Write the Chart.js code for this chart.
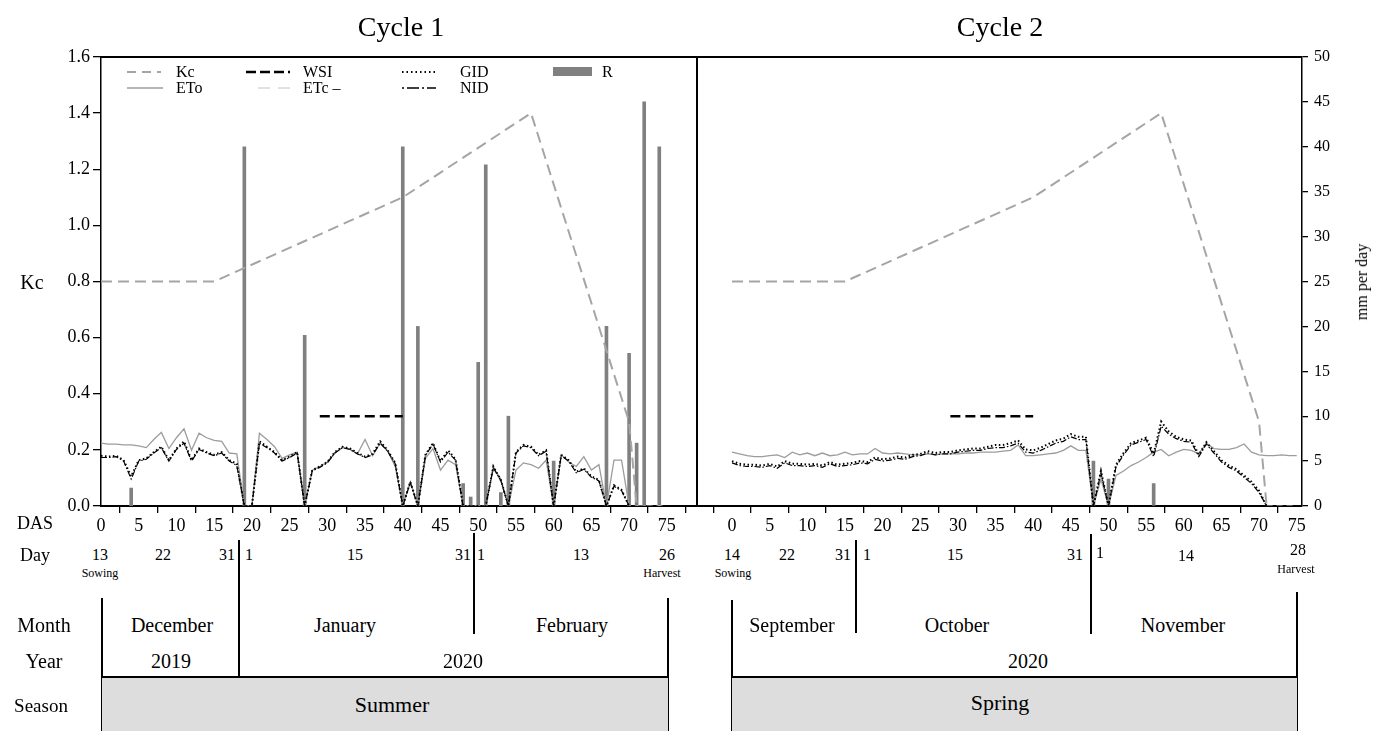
<!DOCTYPE html>
<html>
<head>
<meta charset="utf-8">
<script src="https://cdn.jsdelivr.net/npm/chart.js@4.4.0/dist/chart.umd.min.js"></script>
<style>
body { margin: 0; background: #fff; font-family: 'Liberation Serif', 'Times New Roman', serif; color: #000; }
#wrap { position: relative; width: 1376px; height: 731px; overflow: hidden; }
canvas { position: absolute; }
.t { position: absolute; white-space: nowrap; transform: translate(-50%, -50%); line-height: 1; }
.l { position: absolute; white-space: nowrap; transform: translate(0, -50%); line-height: 1; font-size: 16px; }
.v { position: absolute; background: #000; width: 1.5px; }
.box { position: absolute; background: #dddddd; border-top: 2px solid #000; border-left: 1.5px solid #000; border-right: 1.5px solid #000; box-sizing: border-box; }
svg { position: absolute; overflow: visible; }
</style>
</head>
<body>
<div id="wrap">
  <canvas id="c1" width="700" height="545" style="left:0;top:0"></canvas>
  <canvas id="c2" width="679" height="545" style="left:697px;top:0"></canvas>

  <div class="t" style="left:401px;top:27px;font-size:28px">Cycle 1</div>
  <div class="t" style="left:1000px;top:27px;font-size:28px">Cycle 2</div>
  <div class="t" style="left:32px;top:282px;font-size:20px">Kc</div>
  <div class="t" style="left:1362px;top:282px;font-size:16px;transform:translate(-50%,-50%) rotate(-90deg)">mm per day</div>

  <!-- legend -->
  <svg style="left:127px;top:72px" width="34" height="2"><line x1="0" y1="0" x2="34" y2="0" stroke="#a5a5a5" stroke-width="2" stroke-dasharray="9,6"/></svg>
  <div class="l" style="left:176px;top:72px">Kc</div>
  <svg style="left:246px;top:72px" width="44" height="2"><line x1="0" y1="0" x2="44" y2="0" stroke="#000" stroke-width="2.5" stroke-dasharray="10,4"/></svg>
  <div class="l" style="left:303px;top:72px">WSI</div>
  <svg style="left:402px;top:72px" width="36" height="2"><line x1="0" y1="0" x2="36" y2="0" stroke="#000" stroke-width="2" stroke-dasharray="1.5,3"/></svg>
  <div class="l" style="left:460px;top:72px">GID</div>
  <div style="position:absolute;left:553px;top:67px;width:39px;height:9px;background:#808080"></div>
  <div class="l" style="left:602px;top:72px">R</div>
  <svg style="left:127px;top:88px" width="36" height="2"><line x1="0" y1="0" x2="36" y2="0" stroke="#9c9c9c" stroke-width="1.3"/></svg>
  <div class="l" style="left:176px;top:88px">ETo</div>
  <svg style="left:258px;top:88px" width="34" height="2"><line x1="0" y1="0" x2="34" y2="0" stroke="#c4c4c4" stroke-width="1" stroke-dasharray="12,8"/></svg>
  <div class="l" style="left:303px;top:88px">ETc –</div>
  <svg style="left:402px;top:88px" width="34" height="2"><line x1="0" y1="0" x2="34" y2="0" stroke="#000" stroke-width="1.3" stroke-dasharray="2,3,12,3"/></svg>
  <div class="l" style="left:460px;top:88px">NID</div>

  <!-- row labels -->
  <div class="t" style="left:35px;top:523px;font-size:18px">DAS</div>
  <div class="t" style="left:35px;top:555px;font-size:18px">Day</div>
  <div class="t" style="left:44px;top:625px;font-size:20px">Month</div>
  <div class="t" style="left:44px;top:661px;font-size:20px">Year</div>
  <div class="t" style="left:41px;top:705px;font-size:19px">Season</div>

  <!-- cycle 1 calendar -->
  <div class="t" style="left:100px;top:555px;font-size:16px">13</div>
  <div class="t" style="left:163px;top:555px;font-size:16px">22</div>
  <div class="t" style="left:227px;top:555px;font-size:16px">31</div>
  <div class="t" style="left:249px;top:555px;font-size:16px">1</div>
  <div class="t" style="left:355px;top:555px;font-size:16px">15</div>
  <div class="t" style="left:463px;top:555px;font-size:16px">31</div>
  <div class="t" style="left:481px;top:555px;font-size:16px">1</div>
  <div class="t" style="left:581px;top:555px;font-size:16px">13</div>
  <div class="t" style="left:667px;top:555px;font-size:16px">26</div>
  <div class="t" style="left:100px;top:573px;font-size:12px">Sowing</div>
  <div class="t" style="left:662px;top:573px;font-size:12px">Harvest</div>
  <div class="v" style="left:238px;top:540px;height:136px"></div>
  <div class="v" style="left:473px;top:533px;height:101px"></div>
  <div class="v" style="left:101px;top:598px;height:80px"></div>
  <div class="v" style="left:667px;top:598px;height:80px"></div>
  <div class="t" style="left:172px;top:625px;font-size:20px">December</div>
  <div class="t" style="left:345px;top:625px;font-size:20px">January</div>
  <div class="t" style="left:572px;top:625px;font-size:20px">February</div>
  <div class="t" style="left:171px;top:661px;font-size:20px">2019</div>
  <div class="t" style="left:463px;top:661px;font-size:20px">2020</div>
  <div class="box" style="left:101px;top:676px;width:568px;height:60px"></div>
  <div class="t" style="left:392px;top:705px;font-size:22px">Summer</div>

  <!-- cycle 2 calendar -->
  <div class="t" style="left:732px;top:555px;font-size:16px">14</div>
  <div class="t" style="left:787px;top:555px;font-size:16px">22</div>
  <div class="t" style="left:843px;top:555px;font-size:16px">31</div>
  <div class="t" style="left:867px;top:555px;font-size:16px">1</div>
  <div class="t" style="left:955px;top:555px;font-size:16px">15</div>
  <div class="t" style="left:1075px;top:555px;font-size:16px">31</div>
  <div class="t" style="left:1100px;top:553px;font-size:16px">1</div>
  <div class="t" style="left:1186px;top:556px;font-size:16px">14</div>
  <div class="t" style="left:1298px;top:550px;font-size:16px">28</div>
  <div class="t" style="left:733px;top:573px;font-size:12px">Sowing</div>
  <div class="t" style="left:1296px;top:569px;font-size:12px">Harvest</div>
  <div class="v" style="left:855px;top:540px;height:93px"></div>
  <div class="v" style="left:1090px;top:534px;height:100px"></div>
  <div class="v" style="left:731px;top:600px;height:78px"></div>
  <div class="v" style="left:1296px;top:592px;height:86px"></div>
  <div class="t" style="left:792px;top:625px;font-size:20px">September</div>
  <div class="t" style="left:957px;top:625px;font-size:20px">October</div>
  <div class="t" style="left:1183px;top:625px;font-size:20px">November</div>
  <div class="t" style="left:1028px;top:661px;font-size:20px">2020</div>
  <div class="box" style="left:731px;top:676px;width:567px;height:60px"></div>
  <div class="t" style="left:1000px;top:703px;font-size:22px">Spring</div>
</div>

<script>
// days after sowing (x values) and axis ticks
const DAS = [0,1,2,3,4,5,6,7,8,9,10,11,12,13,14,15,16,17,18,19,20,21,22,23,24,25,26,27,28,29,30,31,32,33,34,35,36,37,38,
  39,40,41,42,43,44,45,46,47,48,49,50,51,52,53,54,55,56,57,58,59,60,61,62,63,64,65,66,67,68,69,70,71,72,73,74,75];
const DAS_TICKS = [0,5,10,15,20,25,30,35,40,45,50,55,60,65,70,75];
const KC_TICKS = [0,0.2,0.4,0.6,0.8,1.0,1.2,1.4,1.6];
const MM_TICKS = [0,5,10,15,20,25,30,35,40,45,50];

// crop coefficient (break points)
const KC_DAYS = [0,15,40,57,70,71];
const KC1 = [0.8,0.8,1.1,1.4,0.3,0.0];
const KC2 = [0.8,0.8,1.1,1.4,0.3,0.0];

// water stress period
const WSI_DAYS = [29,40];
const WSI1 = [10,10];
const WSI2 = [10,10];

// ETc after harvest
const ETC_DAYS = [71,72,73,74,75];
const ETC1 = [0,0,0,0,0];
const ETC2 = [0,0,0,0,0];

// rain (mm)
const R1_DAYS = [4,19,27,40,42,48,49,50,51,53,54,60,67,70,71,72,74];
const R1 = [2,40,19,40,20,2.5,1,16,38,1.5,10,5,20,17,7,45,40];
const R2_DAYS = [48,50,56];
const R2 = [5,3,2.5];

// cycle 1 daily values (mm)
const ETO1 = [7.0,6.9,6.9,6.8,6.8,6.7,6.5,7.4,8.2,6.4,7.6,8.6,6.2,8.1,7.6,7.3,7.2,5.9,5.8,0,0,8.1,7.4,6.6,5.3,5.7,6.0,0,
  4.0,4.4,4.9,5.9,6.5,6.3,5.8,7.4,5.6,7.0,6.1,4.4,0,2.7,0,5.3,6.4,4.0,5.1,4.6,0,0,0,0,4.2,3.0,0,4.0,4.8,4.6,4.2,5.1,0,
  5.7,4.9,4.4,5.5,4.0,4.6,0,5.1,5.1,0,null,null,null,null,null];
const GID1 = [5.6,5.5,5.6,5.1,3.3,5.1,5.3,6.0,6.6,5.1,6.4,7.2,5.1,6.4,6.0,5.7,6.0,5.1,4.7,0,0,7.2,6.6,6.0,5.1,5.5,6.0,0,
  4.0,4.4,4.9,6.0,6.6,6.4,5.9,5.5,5.8,7.2,6.2,4.8,0,2.7,0,5.7,7.0,5.0,6.2,5.2,0,0,0,0,4.4,2.9,0,6.0,6.8,6.6,5.7,6.2,0,
  5.7,5.1,3.8,4.2,3.3,2.9,0,2.3,1.8,0,null,null,null,null,null];
const NID1 = [5.4,5.4,5.5,5.0,3.0,5.0,5.2,5.9,6.5,5.0,6.3,7.0,5.0,6.3,5.9,5.6,5.9,5.0,4.5,0,0,7.0,6.5,5.9,5.0,5.4,5.9,0,
  3.9,4.3,4.8,5.9,6.5,6.3,5.8,5.4,5.7,7.0,6.1,4.7,0,2.6,0,5.6,6.9,4.9,6.0,5.1,0,0,0,0,4.3,2.8,0,5.9,6.7,6.5,5.6,6.1,0,
  5.6,5.0,3.7,4.1,3.2,2.8,0,2.2,1.7,0,null,null,null,null,null];

// cycle 2 daily values (mm)
const ETO2 = [6.0,5.8,5.6,5.5,5.5,5.6,5.7,5.4,6.0,5.7,5.9,5.6,5.9,5.6,5.7,6.0,5.7,5.8,5.8,6.4,5.9,5.8,5.9,5.8,5.7,5.7,
  5.8,5.7,5.8,5.8,5.8,5.9,5.9,6.0,6.0,6.0,6.1,6.2,6.8,5.6,5.6,5.7,5.8,5.9,6.2,6.7,6.2,6.2,0,3.0,0,3.4,3.9,4.5,4.9,5.4,
  6.0,6.3,5.6,6.0,6.3,6.2,5.8,7.0,6.4,6.3,6.3,6.5,6.9,6.0,5.7,5.6,5.6,5.7,5.6,5.6];
const GID2 = [5.0,4.7,4.6,4.6,4.5,4.7,4.4,5.0,4.7,4.7,4.6,4.7,4.5,4.9,4.6,4.7,4.8,5.0,4.9,5.4,5.2,5.3,5.5,5.4,5.7,5.8,
  6.1,5.9,6.0,6.0,6.2,6.3,6.4,6.4,6.6,6.8,6.8,7.0,7.3,6.3,6.2,6.5,6.9,7.3,7.5,8.0,7.7,7.7,0,3.9,0,4.6,5.9,7.0,7.3,7.6,
  5.8,9.4,8.3,7.7,7.4,7.3,5.7,7.1,6.1,5.1,4.5,4.1,3.4,2.7,1.7,0,null,null,null,null];
const NID2 = [4.8,4.5,4.4,4.4,4.3,4.5,4.2,4.8,4.5,4.5,4.4,4.5,4.3,4.7,4.4,4.5,4.6,4.8,4.7,5.2,5.0,5.1,5.3,5.2,5.5,5.6,
  5.9,5.7,5.8,5.8,6.0,6.1,6.2,6.2,6.4,6.5,6.5,6.7,7.0,6.0,5.9,6.2,6.6,7.0,7.2,7.7,7.4,7.4,0,3.7,0,4.4,5.7,6.8,7.1,7.4,
  5.5,8.9,8.0,7.5,7.2,7.1,5.5,6.9,5.9,4.9,4.3,3.9,3.2,2.5,1.5,0,null,null,null,null];

const FONT = 'Liberation Serif';

function pts(xs, ys) {
    return xs.map((x, i) => ({ x: x, y: ys[i] }));
}

function makeSets(c) {
    return [
        { type: 'line', label: 'Kc', data: pts(KC_DAYS, c.kc), yAxisID: 'kc', borderColor: '#a5a5a5', borderWidth: 2, borderDash: [11, 6], order: 1 },
        { type: 'line', label: 'WSI', data: pts(WSI_DAYS, c.wsi), yAxisID: 'mm', borderColor: '#000', borderWidth: 2.5, borderDash: [10, 5], order: 1 },
        { type: 'line', label: 'GID', data: pts(DAS, c.gid), yAxisID: 'mm', borderColor: '#000', borderWidth: 2, borderDash: [1.5, 2.5], order: 2 },
        { type: 'line', label: 'NID', data: pts(DAS, c.nid), yAxisID: 'mm', borderColor: '#000', borderWidth: 1.2, borderDash: [6, 2, 1.5, 2], order: 3 },
        { type: 'line', label: 'ETo', data: pts(DAS, c.eto), yAxisID: 'mm', borderColor: '#9c9c9c', borderWidth: 1.3, order: 4 },
        { type: 'line', label: 'ETc', data: pts(ETC_DAYS, c.etc), yAxisID: 'mm', borderColor: '#c4c4c4', borderWidth: 1, borderDash: [6, 4], order: 5 },
        { type: 'bar', label: 'R', data: pts(c.rDays, c.r), yAxisID: 'mm', backgroundColor: '#808080', barThickness: 3, order: 10 }
    ];
}

// top border plus the dividing line between the two cycles
const frame = {
    id: 'frame',
    afterDraw(chart, args, opts) {
        const { ctx, chartArea: a } = chart;
        ctx.save();
        ctx.strokeStyle = '#000';
        ctx.lineWidth = 2;
        ctx.beginPath();
        ctx.moveTo(a.left, a.top);
        ctx.lineTo(a.right, a.top);
        if (opts.divider) {
            ctx.moveTo(a.right, a.top);
            ctx.lineTo(a.right, a.bottom);
        }
        ctx.stroke();
        ctx.restore();
    }
};

function fixTicks(list) {
    return s => { s.ticks = list.map(v => ({ value: v })); };
}

function xScale(min, max) {
    return {
        type: 'linear', min: min, max: max, offset: false,
        afterBuildTicks: fixTicks(DAS_TICKS),
        afterFit: s => { s.height = 39; },
        grid: { drawOnChartArea: false, drawTicks: true, tickLength: 7, color: '#000', lineWidth: 1.3 },
        border: { display: true, color: '#000', width: 2 },
        ticks: { color: '#000', font: { family: FONT, size: 18 }, padding: 2, maxRotation: 0, autoSkip: false }
    };
}

function build(id, c, left) {
    const kc = {
        type: 'linear', position: 'left', min: 0, max: 1.6, display: left,
        afterBuildTicks: fixTicks(KC_TICKS),
        afterFit: s => { if (left) s.width = 101; },
        grid: { drawOnChartArea: false, tickLength: 8, color: '#000', lineWidth: 1.3 },
        border: { display: true, color: '#000', width: 1.5 },
        ticks: { color: '#000', font: { family: FONT, size: 18 }, padding: 3, callback: v => v.toFixed(1) }
    };
    const mm = {
        type: 'linear', position: 'right', min: 0, max: 50, display: !left,
        afterBuildTicks: fixTicks(MM_TICKS),
        afterFit: s => { if (!left) s.width = 74; },
        grid: { drawOnChartArea: false, tickLength: 6, color: '#000', lineWidth: 1.3 },
        border: { display: true, color: '#000', width: 1.5 },
        ticks: { color: '#000', font: { family: FONT, size: 16 }, padding: 6 }
    };
    new Chart(document.getElementById(id), {
        type: 'line',
        data: { datasets: makeSets(c) },
        options: {
            responsive: false,
            animation: false,
            layout: { padding: { top: 57, right: left ? 3 : 0, left: 0, bottom: 0 } },
            elements: { point: { radius: 0 }, line: { tension: 0 } },
            plugins: { legend: { display: false }, tooltip: { enabled: false }, frame: { divider: left } },
            scales: { x: left ? xScale(0, 79) : xScale(-4.65, 75.7), kc: kc, mm: mm }
        },
        plugins: [frame]
    });
}

window.onload = function () {
    build('c1', { kc: KC1, wsi: WSI1, gid: GID1, nid: NID1, eto: ETO1, etc: ETC1, rDays: R1_DAYS, r: R1 }, true);
    build('c2', { kc: KC2, wsi: WSI2, gid: GID2, nid: NID2, eto: ETO2, etc: ETC2, rDays: R2_DAYS, r: R2 }, false);
};
</script>
</body>
</html>
